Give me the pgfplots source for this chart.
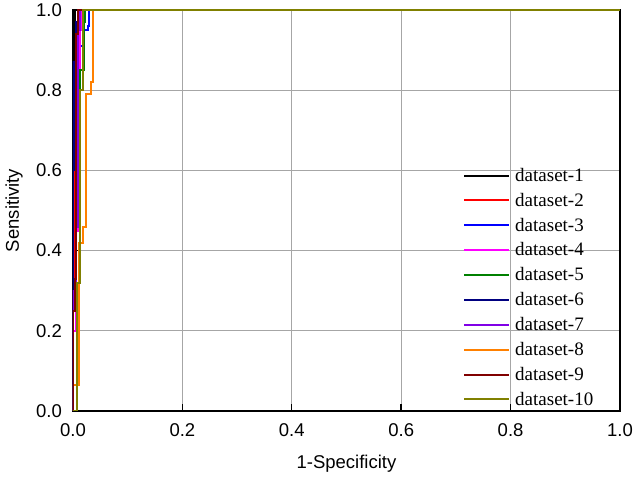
\documentclass[border=0pt]{standalone}
\usepackage{fontspec}
\setmainfont{Liberation Sans}
\newfontfamily\seriffont{Liberation Serif}
\usepackage{pgfplots}
\pgfplotsset{compat=1.18}
\definecolor{dsone}{RGB}{0,0,0}
\definecolor{dstwo}{RGB}{255,0,0}
\definecolor{dsthree}{RGB}{0,0,255}
\definecolor{dsfour}{RGB}{255,0,255}
\definecolor{dsfive}{RGB}{0,128,0}
\definecolor{dssix}{RGB}{0,0,128}
\definecolor{dsseven}{RGB}{128,0,230}
\definecolor{dseight}{RGB}{255,128,0}
\definecolor{dsnine}{RGB}{128,0,0}
\definecolor{dsten}{RGB}{128,128,0}
\begin{document}
\begin{tikzpicture}
\begin{axis}[name=ax,
  width=547pt, height=401pt, scale only axis,
  xmin=0, xmax=1, ymin=0, ymax=1,
  xtick={0,0.2,0.4,0.6,0.8,1}, ytick={0,0.2,0.4,0.6,0.8,1},
  xticklabels={0.0,0.2,0.4,0.6,0.8,1.0},
  yticklabels={0.0,0.2,0.4,0.6,0.8,1.0},
  grid=major, major grid style={draw=black!35, line width=0.8pt},
  axis line style={line width=1.4pt},
  tick align=inside, xtick pos=bottom, ytick pos=left,
  major tick length=7pt, tick style={black, line width=1.4pt},
  ticklabel style={font=\fontsize{18.5}{18.5}\selectfont, inner sep=0pt},
  yticklabel style={xshift=-11pt},
  xticklabel style={yshift=-12pt},
  xlabel={1-Specificity}, ylabel={Sensitivity},
  label style={font=\fontsize{18.5}{18.5}\selectfont, inner sep=0pt},
  xlabel style={at={(axis description cs:0.5,-0.1097)}, anchor=north},
  ylabel style={at={(axis description cs:-0.0914,0.5)}, anchor=south},
  legend style={at={(axis cs:0.713,0.01)}, anchor=south west, draw=none, fill=none,
    inner sep=0pt, font=\seriffont\fontsize{19}{19}\selectfont,
    row sep=10.2pt, column sep=5pt, nodes={inner sep=0pt}},
  legend cell align=left,
  legend image code/.code={\draw[#1, line width=2pt] (0pt,0pt) -- (45pt,0pt);},
  every axis plot/.append style={line width=2pt},
]
\addplot[dsone] coordinates {(0,0) (0,0.87) (0.003,0.87) (0.003,1) (1,1)};
\addlegendentry{dataset-1}
\addplot[dstwo] coordinates {(0,0) (0,0.3) (0.004,0.3) (0.004,0.7) (0.007,0.7) (0.007,0.93) (0.01,0.93) (0.01,1) (1,1)};
\addlegendentry{dataset-2}
\addplot[dsthree] coordinates {(0,0) (0,0.87) (0.005,0.87) (0.005,0.89) (0.012,0.89) (0.012,0.91) (0.02,0.91) (0.02,0.95) (0.027,0.95) (0.027,0.96) (0.03,0.96) (0.03,1) (1,1)};
\addlegendentry{dataset-3}
\addplot[dsfour] coordinates {(0,0) (0,0.2) (0.005,0.2) (0.005,0.45) (0.009,0.45) (0.009,0.82) (0.013,0.82) (0.013,0.95) (0.016,0.95) (0.016,1) (1,1)};
\addlegendentry{dataset-4}
\addplot[dsfive] coordinates {(0,0) (0,0.25) (0.006,0.25) (0.006,0.6) (0.012,0.6) (0.012,0.85) (0.02,0.85) (0.02,0.97) (0.022,0.97) (0.022,1) (1,1)};
\addlegendentry{dataset-5}
\addplot[dssix] coordinates {(0,0) (0,0.6) (0.002,0.6) (0.002,0.87) (0.006,0.87) (0.006,0.97) (0.01,0.97) (0.01,1) (1,1)};
\addlegendentry{dataset-6}
\addplot[dsseven] coordinates {(0,0) (0,0.3) (0.006,0.3) (0.006,0.46) (0.009,0.46) (0.009,0.95) (0.012,0.95) (0.012,1) (1,1)};
\addlegendentry{dataset-7}
\addplot[dseight] coordinates {(0,0) (0,0.065) (0.0115,0.065) (0.0115,0.42) (0.018,0.42) (0.018,0.46) (0.024,0.46) (0.024,0.79) (0.032,0.79) (0.032,0.82) (0.037,0.82) (0.037,1) (1,1)};
\addlegendentry{dataset-8}
\addplot[dsnine] coordinates {(0,0) (0,0.25) (0.003,0.25) (0.003,0.33) (0.006,0.33) (0.006,0.94) (0.01,0.94) (0.01,1) (1,1)};
\addlegendentry{dataset-9}
\addplot[dsten] coordinates {(0,0) (0.007,0) (0.007,0.32) (0.013,0.32) (0.013,0.8) (0.019,0.8) (0.019,1) (1,1)};
\addlegendentry{dataset-10}
\end{axis}
\pgfresetboundingbox
\path[use as bounding box] ([xshift=-73pt,yshift=-68pt]ax.south west) rectangle ([xshift=18pt,yshift=10pt]ax.north east);
\end{tikzpicture}
\end{document}
